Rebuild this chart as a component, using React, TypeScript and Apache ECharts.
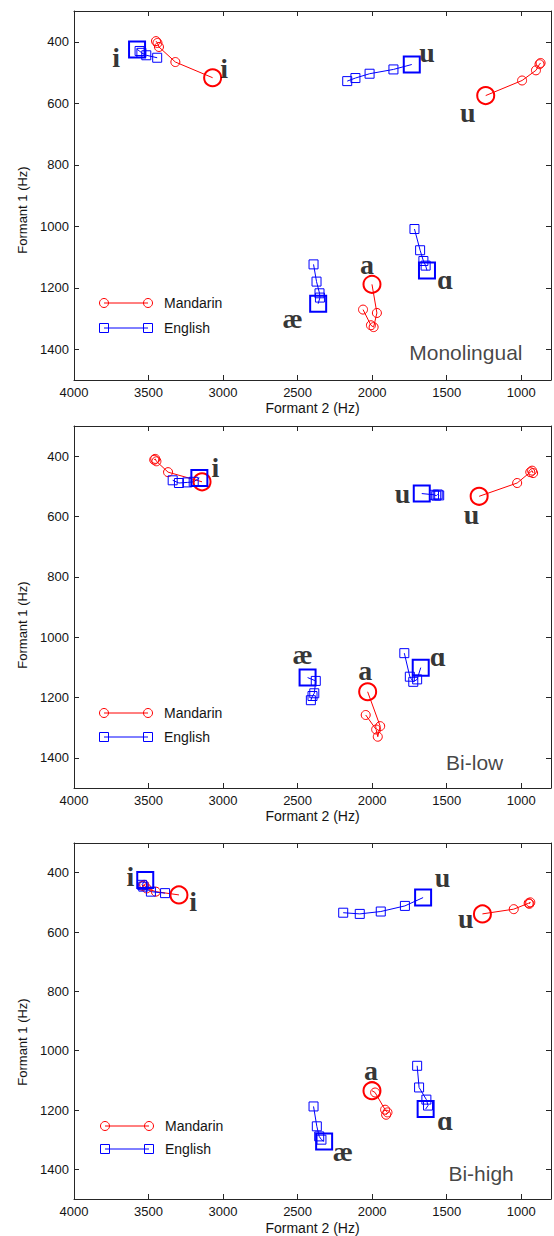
import React, { useEffect, useRef } from 'react';
import * as echarts from 'echarts';

type Pt = [number, number];
type Lbl = { name: string; value: Pt };

// ---------- Monolingual ----------
const monoMandarinI: Pt[] = [[3070, 517], [3320, 466], [3430, 417], [3440, 404], [3450, 398]];
const monoEnglishI: Pt[] = [[3577, 425], [3560, 430], [3548, 436], [3515, 444], [3442, 452]];
const monoMandarinU: Pt[] = [[1238, 575], [994, 526], [901, 493], [877, 473], [870, 469]];
const monoEnglishU: Pt[] = [[1734, 474], [1857, 490], [2017, 504], [2112, 518], [2167, 528]];
const monoMandarinA: Pt[] = [[2001, 1189], [1968, 1282], [1990, 1328], [2008, 1322], [2061, 1271]];
const monoEnglishAE: Pt[] = [[2362, 1252], [2350, 1232], [2353, 1218], [2373, 1180], [2393, 1124]];
const monoEnglishA: Pt[] = [[1632, 1144], [1641, 1128], [1656, 1113], [1678, 1078], [1716, 1009]];
const monoLabels: Lbl[] = [
  { name: 'i', value: [3717, 450] },
  { name: 'i', value: [2993, 488] },
  { name: 'u', value: [1632, 434] },
  { name: 'u', value: [1359, 630] },
  { name: 'æ', value: [2533, 1299] },
  { name: 'a', value: [2035, 1125] },
  { name: 'ɑ', value: [1510, 1173] },
];

// ---------- Bi-low ----------
const bilowMandarinI: Pt[] = [[3141, 485], [3369, 453], [3447, 417], [3455, 409], [3462, 412]];
const bilowEnglishI: Pt[] = [[3159, 472], [3197, 485], [3240, 487], [3296, 489], [3338, 480]];
const bilowMandarinU: Pt[] = [[1282, 533], [1027, 489], [939, 453], [927, 448], [920, 456]];
const bilowEnglishU: Pt[] = [[1667, 524], [1585, 528], [1570, 531], [1560, 527], [1550, 530]];
const bilowMandarinA: Pt[] = [[2030, 1181], [1946, 1295], [1962, 1330], [1973, 1306], [2043, 1258]];
const bilowEnglishAE: Pt[] = [[2433, 1134], [2378, 1145], [2388, 1186], [2400, 1195], [2411, 1209]];
const bilowEnglishA: Pt[] = [[1674, 1101], [1698, 1140], [1724, 1148], [1747, 1131], [1784, 1053]];
const bilowLabels: Lbl[] = [
  { name: 'i', value: [3052, 439] },
  { name: 'u', value: [1796, 523] },
  { name: 'u', value: [1333, 595] },
  { name: 'æ', value: [2466, 1056] },
  { name: 'a', value: [2046, 1110] },
  { name: 'ɑ', value: [1559, 1063] },
];

// ---------- Bi-high ----------
const bihighMandarinI: Pt[] = [[3296, 475], [3451, 464], [3513, 453], [3529, 441], [3540, 445]];
const bihighEnglishI: Pt[] = [[3522, 425], [3544, 441], [3535, 447], [3484, 464], [3389, 469]];
const bihighMandarinU: Pt[] = [[1260, 539], [1050, 523], [950, 503], [939, 500], [945, 505]];
const bihighEnglishU: Pt[] = [[1658, 484], [1780, 512], [1942, 531], [2083, 539], [2194, 535]];
const bihighMandarinA: Pt[] = [[2001, 1135], [1980, 1141], [1913, 1199], [1897, 1208], [1906, 1216]];
const bihighEnglishAE: Pt[] = [[2322, 1306], [2340, 1300], [2355, 1289], [2371, 1255], [2393, 1188]];
const bihighEnglishA: Pt[] = [[1641, 1197], [1625, 1185], [1636, 1165], [1685, 1124], [1698, 1051]];
const bihighLabels: Lbl[] = [
  { name: 'i', value: [3622, 413] },
  { name: 'i', value: [3201, 498] },
  { name: 'u', value: [1527, 415] },
  { name: 'u', value: [1371, 555] },
  { name: 'æ', value: [2196, 1340] },
  { name: 'a', value: [2008, 1066] },
  { name: 'ɑ', value: [1510, 1236] },
];

const panelNames = ['Monolingual', 'Bi-low', 'Bi-high'];
const panelNamePos: Pt[] = [[1371, 1410], [1312, 1414], [1269, 1414]];

const legendNames = ['Mandarin', 'English'];
const xTitle = 'Formant 2 (Hz)';
const yTitle = 'Formant 1 (Hz)';
const xMin = 800;
const xMax = 4000;
const yMin = 300;
const yMax = 1500;

const mandarinPanels: Pt[][][] = [
  [monoMandarinI, monoMandarinU, monoMandarinA],
  [bilowMandarinI, bilowMandarinU, bilowMandarinA],
  [bihighMandarinI, bihighMandarinU, bihighMandarinA],
];
const englishPanels: Pt[][][] = [
  [monoEnglishI, monoEnglishU, monoEnglishAE, monoEnglishA],
  [bilowEnglishI, bilowEnglishU, bilowEnglishAE, bilowEnglishA],
  [bihighEnglishI, bihighEnglishU, bihighEnglishAE, bihighEnglishA],
];
const labelPanels: Lbl[][] = [monoLabels, bilowLabels, bihighLabels];

// ---------- layout ----------
const SANS = '"Liberation Sans", Arial, sans-serif';
const SERIF = '"Liberation Serif", "DejaVu Serif", serif';
const RED = '#ff0000';
const BLUE = '#0000ff';
const AXIS = '#262626';
const TEXT = '#141414';

const grids = [
  { left: 74, top: 11, right: -2, height: 369 },
  { left: 74, top: 426, right: -2, height: 362 },
  { left: 74, top: 843, right: -2, height: 357 },
];
const yTitleCenters = [210, 625, 1042];
const legendLayout = [
  { x1: 104, x2: 148, tx: 164, yM: 303, yE: 328 },
  { x1: 104, x2: 148, tx: 164, yM: 713, yE: 737 },
  { x1: 105, x2: 149, tx: 165, yM: 1126, yE: 1149 },
];
const xNameGaps = [21, 21, 22];

function trajSeries(data: Pt[], kind: 'm' | 'e', gi: number) {
  const color = kind === 'm' ? RED : BLUE;
  const big = kind === 'm' ? 17 : 16;
  return {
    type: 'line',
    xAxisIndex: gi * 2,
    yAxisIndex: gi * 2,
    symbol: kind === 'm' ? 'circle' : 'rect',
    symbolSize: 9,
    showAllSymbol: true,
    silent: true,
    lineStyle: { color, width: 1 },
    itemStyle: { color: 'rgba(255,255,255,0)', borderColor: color, borderWidth: 1 },
    data: data.map((p, i) =>
      i === 0
        ? { value: p, symbolSize: big, itemStyle: { color: 'rgba(255,255,255,0)', borderColor: color, borderWidth: 2 } }
        : { value: p }
    ),
    z: 3,
  };
}

function labelSeries(labels: Lbl[], gi: number) {
  return {
    type: 'scatter',
    xAxisIndex: gi * 2,
    yAxisIndex: gi * 2,
    symbolSize: 1,
    silent: true,
    itemStyle: { color: 'rgba(0,0,0,0)' },
    label: {
      show: true,
      position: 'inside',
      formatter: '{b}',
      fontFamily: SERIF,
      fontWeight: 'bold',
      fontSize: 28,
      color: '#000',
    },
    data: labels,
    z: 5,
  };
}

function nameSeries(gi: number) {
  return {
    type: 'scatter',
    xAxisIndex: gi * 2,
    yAxisIndex: gi * 2,
    symbolSize: 1,
    silent: true,
    itemStyle: { color: 'rgba(0,0,0,0)' },
    label: {
      show: true,
      position: 'inside',
      formatter: '{b}',
      fontFamily: SANS,
      fontSize: 21,
      color: TEXT,
    },
    data: [{ name: panelNames[gi], value: panelNamePos[gi] }],
    z: 5,
  };
}

function buildAxes() {
  const xAxis: any[] = [];
  const yAxis: any[] = [];
  const line = { show: true, onZero: false, lineStyle: { color: AXIS, width: 1 } };
  const tick = { show: true, inside: true, length: 5, lineStyle: { color: AXIS, width: 1 } };
  grids.forEach((_, gi) => {
    xAxis.push({
      type: 'value',
      gridIndex: gi,
      position: 'bottom',
      min: xMin,
      max: xMax,
      inverse: true,
      splitLine: { show: false },
      axisLine: line,
      axisTick: tick,
      axisLabel: {
        margin: 6,
        fontSize: 13,
        fontFamily: SANS,
        color: TEXT,
        formatter: (v: number) => (v === xMin ? '' : String(v)),
      },
      name: xTitle,
      nameLocation: 'middle',
      nameGap: xNameGaps[gi],
      nameTextStyle: { fontSize: 14, fontFamily: SANS, color: TEXT },
    });
    xAxis.push({
      type: 'value',
      gridIndex: gi,
      position: 'top',
      min: xMin,
      max: xMax,
      inverse: true,
      splitLine: { show: false },
      axisLine: line,
      axisTick: tick,
      axisLabel: { show: false },
    });
    yAxis.push({
      type: 'value',
      gridIndex: gi,
      position: 'left',
      min: yMin,
      max: yMax,
      inverse: true,
      splitLine: { show: false },
      axisLine: line,
      axisTick: tick,
      axisLabel: {
        margin: 5,
        fontSize: 13,
        fontFamily: SANS,
        color: TEXT,
        formatter: (v: number) => (v === yMin || v === yMax ? '' : String(v)),
      },
    });
    yAxis.push({
      type: 'value',
      gridIndex: gi,
      position: 'right',
      min: yMin,
      max: yMax,
      inverse: true,
      splitLine: { show: false },
      axisLine: line,
      axisTick: tick,
      axisLabel: { show: false },
    });
  });
  return { xAxis, yAxis };
}

function titleGraphics() {
  return yTitleCenters.map((cy) => ({
    type: 'text',
    x: 22,
    y: cy,
    rotation: Math.PI / 2,
    style: { text: yTitle, fontSize: 13, fontFamily: SANS, fill: TEXT, align: 'center', verticalAlign: 'middle' },
  }));
}

function legendGraphics() {
  const out: any[] = [];
  legendLayout.forEach((L) => {
    out.push(
      { type: 'line', shape: { x1: L.x1, y1: L.yM, x2: L.x2, y2: L.yM }, style: { stroke: RED, lineWidth: 1 } },
      { type: 'circle', shape: { cx: L.x1, cy: L.yM, r: 4.5 }, style: { fill: 'none', stroke: RED, lineWidth: 1 } },
      { type: 'circle', shape: { cx: L.x2, cy: L.yM, r: 4.5 }, style: { fill: 'none', stroke: RED, lineWidth: 1 } },
      {
        type: 'text',
        x: L.tx,
        y: L.yM,
        style: { text: legendNames[0], fontSize: 14, fontFamily: SANS, fill: TEXT, verticalAlign: 'middle', align: 'left' },
      },
      { type: 'line', shape: { x1: L.x1, y1: L.yE, x2: L.x2, y2: L.yE }, style: { stroke: BLUE, lineWidth: 1 } },
      { type: 'rect', shape: { x: L.x1 - 4.5, y: L.yE - 4.5, width: 9, height: 9 }, style: { fill: 'none', stroke: BLUE, lineWidth: 1 } },
      { type: 'rect', shape: { x: L.x2 - 4.5, y: L.yE - 4.5, width: 9, height: 9 }, style: { fill: 'none', stroke: BLUE, lineWidth: 1 } },
      {
        type: 'text',
        x: L.tx,
        y: L.yE,
        style: { text: legendNames[1], fontSize: 14, fontFamily: SANS, fill: TEXT, verticalAlign: 'middle', align: 'left' },
      }
    );
  });
  return out;
}

export default function App() {
  const ref = useRef<HTMLDivElement>(null);
  useEffect(() => {
    if (!ref.current) return;
    const chart = echarts.init(ref.current, undefined, { renderer: 'svg' });
    const { xAxis, yAxis } = buildAxes();
    const series: any[] = [];
    grids.forEach((_, gi) => {
      mandarinPanels[gi].forEach((d) => series.push(trajSeries(d, 'm', gi)));
      englishPanels[gi].forEach((d) => series.push(trajSeries(d, 'e', gi)));
      series.push(labelSeries(labelPanels[gi], gi));
      series.push(nameSeries(gi));
    });
    chart.setOption({
      animation: false,
      backgroundColor: '#ffffff',
      grid: grids,
      xAxis,
      yAxis,
      series,
      graphic: [...titleGraphics(), ...legendGraphics()],
    });
    return () => chart.dispose();
  }, []);
  return (
    <div
      ref={ref}
      style={{ position: 'absolute', left: 0, top: 0, width: 554, height: 1236, background: '#fff' }}
    />
  );
}
